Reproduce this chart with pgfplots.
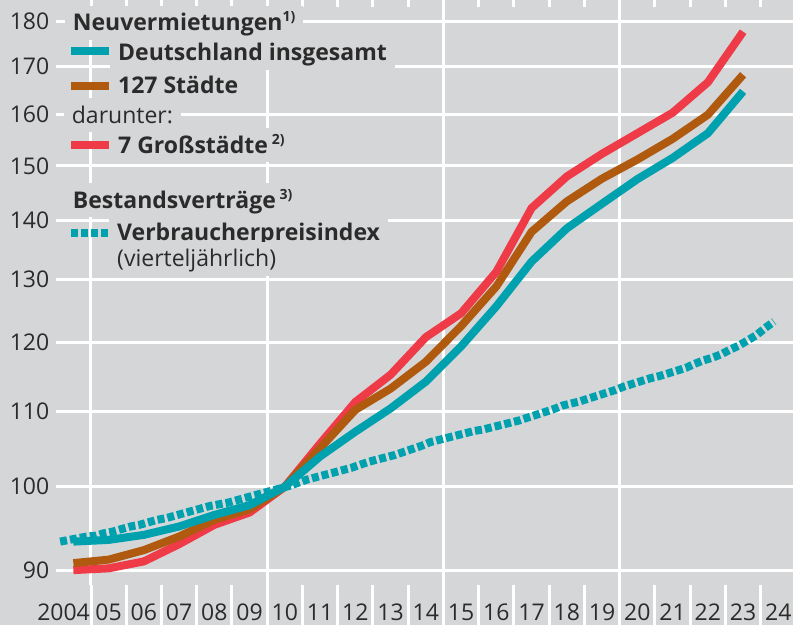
\documentclass[border=0pt]{standalone}
\usepackage{pgfplots}
\pgfplotsset{compat=1.18}
\usepackage{fontspec}
\setmainfont{Open Sans}
\definecolor{bgc}{HTML}{D5D6D8}
\definecolor{teal1}{HTML}{00A1AF}
\definecolor{brown1}{HTML}{B05A10}
\definecolor{red1}{HTML}{EE3B47}
\definecolor{txt}{HTML}{2B2B2B}
\newcommand{\lgf}{\fontsize{23}{27}\selectfont}
\newcommand{\sups}[1]{\raisebox{9pt}{\fontsize{14}{14}\selectfont\bfseries #1}}
\begin{document}
\begin{tikzpicture}[x=1pt,y=1pt]
\path[use as bounding box, fill=bgc] (0pt,0pt) rectangle (793pt,-625pt);
% grid and labels
\begin{axis}[
  at={(55.75pt,-6.7pt)}, anchor=north west,
  scale only axis, width=737.25pt, height=578.3pt,
  xmin=2004, xmax=2024.915,
  ymode=log, ymin=88.33, ymax=183.4,
  axis line style={draw=none},
  ytick={90,100,110,120,130,140,150,160,170,180},
  yticklabels={90,100,110,120,130,140,150,160,170,180},
  minor ytick={},
  ymajorgrids,
  major grid style={white, line width=3pt},
  xtick={2004.5,2005.5,...,2024.5},
  xticklabels={\makebox[33pt][r]{2004},05,06,07,08,09,10,11,12,13,14,15,16,17,18,19,20,21,22,23,24},
  major tick length=0pt,
  tick style={draw=none},
  extra x ticks={2005,2010,2015,2020},
  extra x tick labels={},
  extra x tick style={grid=major, major tick length=0pt},
  /pgf/number format/assume math mode=true,
  yticklabel style={font=\lgf, text=txt, anchor=east, xshift=-3pt},
  xticklabel style={font=\lgf, text=txt, anchor=base, yshift=-36pt},
]
\end{axis}
% data and year boundary ticks
\begin{axis}[
  at={(55.75pt,-6.7pt)}, anchor=north west,
  scale only axis, width=737.25pt, height=578.3pt,
  xmin=2004, xmax=2024.915,
  ymode=log, ymin=88.33, ymax=183.4,
  axis line style={draw=none},
  xtick={2005,2006,...,2024},
  xticklabels={},
  ymajorticks=false, yminorticks=false,
  ytick=\empty,
  tick align=outside,
  major tick length=40pt,
  xtick style={draw=white, line width=3pt},
  clip=false,
]
\pgfplotsinvokeforeach{2005,2006,...,2024}{
  \draw[white, line width=3pt] (axis cs:#1,88.33) -- ++(0pt,-40pt);
}
\addplot[red1, line width=8pt, line join=miter] coordinates {
(2004.5,90.0) (2005.5,90.2) (2006.5,91.0) (2007.5,93.0) (2008.5,95.3) (2009.5,96.8)
(2010.5,100.0) (2011.5,105.6) (2012.5,111.3) (2013.5,115.2) (2014.5,120.8) (2015.5,124.5)
(2016.5,131.2) (2017.5,142.2) (2018.5,148.0) (2019.5,152.3) (2020.5,156.3) (2021.5,160.4)
(2022.5,166.7) (2023.5,177.7)};
\addplot[brown1, line width=8pt, line join=miter] coordinates {
(2004.5,90.8) (2005.5,91.2) (2006.5,92.3) (2007.5,93.9) (2008.5,95.9) (2009.5,97.2)
(2010.5,100.0) (2011.5,105.0) (2012.5,110.2) (2013.5,113.2) (2014.5,117.1) (2015.5,122.5)
(2016.5,128.8) (2017.5,138.0) (2018.5,143.4) (2019.5,147.6) (2020.5,151.2) (2021.5,155.2)
(2022.5,160.0) (2023.5,168.3)};
\addplot[teal1, line width=8pt, line join=miter] coordinates {
(2004.5,93.3) (2005.5,93.5) (2006.5,94.1) (2007.5,95.1) (2008.5,96.5) (2009.5,97.7)
(2010.5,100.0) (2011.5,103.9) (2012.5,107.2) (2013.5,110.4) (2014.5,114.2) (2015.5,119.4)
(2016.5,125.6) (2017.5,132.9) (2018.5,138.6) (2019.5,143.0) (2020.5,147.5) (2021.5,151.5)
(2022.5,156.3) (2023.5,164.8)};
\addplot[teal1, line width=8pt, dash pattern=on 7pt off 3pt] coordinates {
(2004.125,93.3) (2004.375,93.5) (2004.625,93.7) (2004.875,93.9)
(2005.125,94.0) (2005.375,94.3) (2005.625,94.5) (2005.875,94.8)
(2006.125,95.1) (2006.375,95.3) (2006.625,95.6) (2006.875,95.9)
(2007.125,96.1) (2007.375,96.4) (2007.625,96.7) (2007.875,97.0)
(2008.125,97.3) (2008.375,97.6) (2008.625,97.8) (2008.875,98.0)
(2009.125,98.3) (2009.375,98.6) (2009.625,98.9) (2009.875,99.2)
(2010.125,99.5) (2010.375,99.8) (2010.625,100.1) (2010.875,100.5)
(2011.125,100.9) (2011.375,101.2) (2011.625,101.5) (2011.875,101.8)
(2012.125,102.1) (2012.375,102.4) (2012.625,102.8) (2012.875,103.2)
(2013.125,103.5) (2013.375,103.8) (2013.625,104.1) (2013.875,104.5)
(2014.125,104.9) (2014.375,105.3) (2014.625,105.8) (2014.875,106.1)
(2015.125,106.4) (2015.375,106.7) (2015.625,107.0) (2015.875,107.3)
(2016.125,107.5) (2016.375,107.8) (2016.625,108.1) (2016.875,108.4)
(2017.125,108.7) (2017.375,109.1) (2017.625,109.5) (2017.875,109.9)
(2018.125,110.3) (2018.375,110.8) (2018.625,111.1) (2018.875,111.4)
(2019.125,111.8) (2019.375,112.2) (2019.625,112.6) (2019.875,113.0)
(2020.125,113.5) (2020.375,113.9) (2020.625,114.3) (2020.875,114.7)
(2021.125,115.0) (2021.375,115.4) (2021.625,115.8) (2021.875,116.2)
(2022.125,116.8) (2022.375,117.3) (2022.625,117.7) (2022.875,118.2)
(2023.125,118.9) (2023.375,119.5) (2023.625,120.3) (2023.875,121.1)
(2024.125,122.2) (2024.375,123.2)};
\end{axis}
\tikzset{lg/.style={fill=bgc, anchor=base west, inner xsep=8pt, inner ysep=3pt,
  text height=22pt, text depth=6pt, text=txt, font=\lgf}}
\node[lg] at (64.7pt,-30.7pt) {\bfseries Neuvermietungen\sups{1)}};
\node[lg] at (110pt,-60.7pt) {\bfseries Deutschland insgesamt};
\node[lg] at (110pt,-93.3pt) {\bfseries 127 Städte};
\node[lg] at (63.7pt,-123.3pt) {darunter:};
\node[lg] at (110pt,-153.3pt) {\bfseries 7 Großstädte\,\sups{2)}};
\node[lg] at (64.7pt,-208.3pt) {\bfseries Bestandsverträge\,\sups{3)}};
\node[lg] at (109pt,-240pt) {\bfseries Verbraucherpreisindex};
\node[lg] at (109pt,-266.7pt) {(vierteljährlich)};
\draw[teal1, line width=8pt] (71pt,-51.3pt) -- (109pt,-51.3pt);
\draw[brown1, line width=8pt] (71pt,-85.5pt) -- (109pt,-85.5pt);
\draw[red1, line width=8pt] (71pt,-144.8pt) -- (109pt,-144.8pt);
\draw[teal1, line width=8pt, dash pattern=on 7pt off 3pt] (71pt,-232.7pt) -- (109pt,-232.7pt);
\end{tikzpicture}
\end{document}
